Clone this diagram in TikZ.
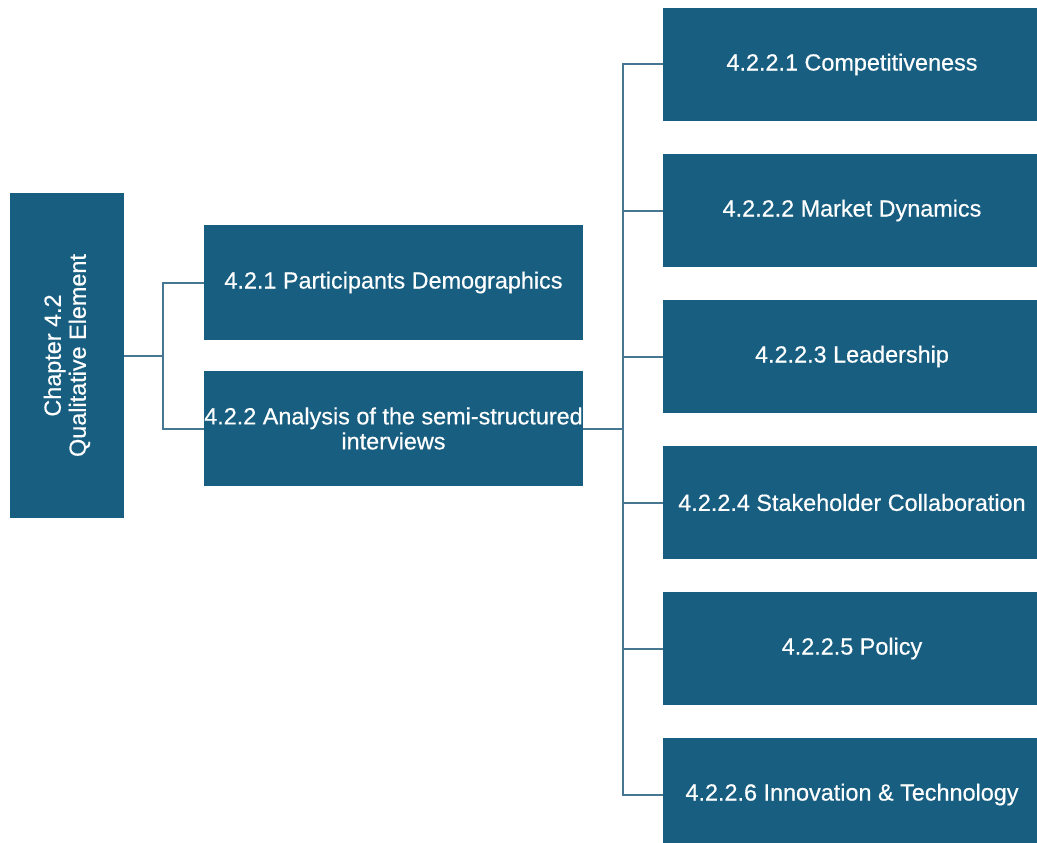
\documentclass[tikz,border=0pt]{standalone}
\usepackage{fontspec}
\setmainfont{Liberation Sans}
\newfontfamily\boxfont[FakeBold=0.5]{Liberation Sans}
\usepackage{xcolor}
\usepackage{tikz}

\definecolor{BoxBlue}{RGB}{23,94,128}
\definecolor{LineBlue}{RGB}{70,118,146}

\tikzset{
  box/.style={fill=BoxBlue,text=white,inner sep=0pt,align=center,
    font=\boxfont\fontsize{23.4}{25}\selectfont},
  link/.style={LineBlue,line width=2pt}
}

\begin{document}
\begin{tikzpicture}[x=1pt,y=-1pt]
\useasboundingbox (0,0) rectangle (1037,843);
\clip (0,0) rectangle (1037,843);

\node[box,minimum width=114,minimum height=325] (chap) at (67,355.5) {};
\node[box,rotate=90] (chaptext) at (67,355.5) {Chapter 4.2\\Qualitative Element};

\node[box,minimum width=379,minimum height=115] (demo) at (393.5,282.5) {4.2.1 Participants Demographics};
\node[box,minimum width=379,minimum height=115] (anal) at (393.5,428.5) {4.2.2 Analysis of the semi-structured\\interviews};

\node[box,minimum width=378,minimum height=113] (comp) at (852,64.5) {4.2.2.1 Competitiveness};
\node[box,minimum width=378,minimum height=113] (mark) at (852,210.5) {4.2.2.2 Market Dynamics};
\node[box,minimum width=378,minimum height=113] (lead) at (852,356.5) {4.2.2.3 Leadership};
\node[box,minimum width=378,minimum height=113] (stak) at (852,502.5) {4.2.2.4 Stakeholder Collaboration};
\node[box,minimum width=378,minimum height=113] (poli) at (852,648.5) {4.2.2.5 Policy};
\node[box,minimum width=378,minimum height=113] (inno) at (852,794.5) {4.2.2.6 Innovation \& Technology};

\coordinate (jl) at (163,355.5);
\coordinate (jr) at (623,428.5);

\draw[link] (chap.east) -- (jl);
\draw[link] (jl) |- (demo.west);
\draw[link] (jl) |- (anal.west);

\draw[link] (anal.east) -- (jr);
\draw[link] (jr) |- (comp.west);
\draw[link] (jr) |- (mark.west);
\draw[link] (jr) |- (lead.west);
\draw[link] (jr) |- (stak.west);
\draw[link] (jr) |- (poli.west);
\draw[link] (jr) |- (inno.west);

\end{tikzpicture}
\end{document}
